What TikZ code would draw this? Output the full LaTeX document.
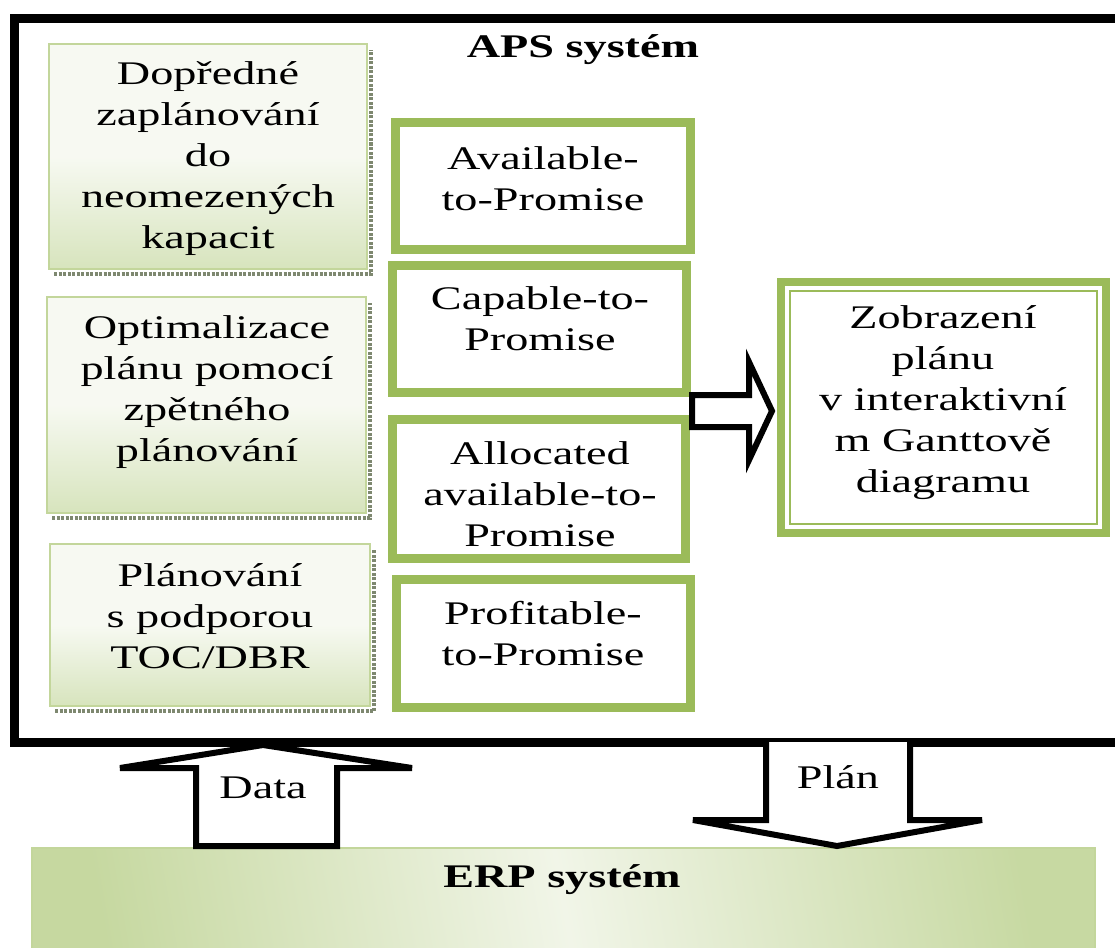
\documentclass[tikz,border=0pt]{standalone}
\usepackage{fontspec}
\setmainfont{Liberation Serif}[FakeStretch=1.4]
\usetikzlibrary{calc}
\definecolor{ogreen}{HTML}{9BBB59}
\definecolor{lgreen}{HTML}{D7E4BD}
\definecolor{bgreen}{HTML}{C3D69B}
\definecolor{pale}{HTML}{EBF1DE}
\definecolor{shadowc}{HTML}{7E8870}
\tikzset{
  leftbox/.style={draw=bgreen, line width=2pt, top color=pale!40!white, bottom color=lgreen, middle color=white!60!pale, inner sep=0pt},
  midbox/.style={draw=ogreen, line width=9pt, fill=white, inner sep=0pt},
  txt/.style={font=\fontsize{33}{41}\selectfont, align=center, inner sep=0pt, text=black},
  btxt/.style={font=\fontsize{33}{41}\selectfont\bfseries, align=center, inner sep=0pt, text=black},
  shadowline/.style={draw=shadowc, line width=3.5pt, dash pattern=on 3pt off 1.5pt},
  blockarrow/.style={draw=black, fill=white, line width=6pt, line join=miter}
}
\begin{document}
\begin{tikzpicture}[x=1pt,y=-1pt]
\useasboundingbox (0,0) rectangle (1115,947);
\fill[white] (0,0) rectangle (1115,947);

% APS frame (right side beyond the page)
\draw[line width=9pt] (14,19) rectangle (1150,742);
\node[btxt] (aps) at (583,50) {APS systém};

% left column boxes
\node[leftbox, minimum width=318pt, minimum height=225pt] (b1) at (208,156.5) {};
\node[leftbox, minimum width=319pt, minimum height=216pt] (b2) at (206.5,405) {};
\node[leftbox, minimum width=320pt, minimum height=162pt] (b3) at (210,625) {};
\foreach \b in {b1,b2,b3}{
  \draw[shadowline] ($(\b.south west)+(6,4)$) -- ($(\b.south east)+(3,4)$) -- ($(\b.north east)+(3,7)$);
}
\node[txt] (t1) at (208,159) {Dopředné\\zaplánování\\do\\neomezených\\kapacit};
\node[txt] (t2) at (207,392) {Optimalizace\\plánu pomocí\\zpětného\\plánování};
\node[txt] (t3) at (210,616) {Plánování\\s podporou\\TOC/DBR};

% middle column
\node[midbox, minimum width=295pt, minimum height=127pt] (m1) at (543,186) {};
\node[midbox, minimum width=294pt, minimum height=127pt] (m2) at (539.5,329) {};
\node[midbox, minimum width=293pt, minimum height=139pt] (m3) at (539,489) {};
\node[midbox, minimum width=294pt, minimum height=128pt] (m4) at (543.5,643.5) {};
\node[txt] (mt1) at (543,179) {Available-\\to-Promise};
\node[txt] (mt2) at (540,319) {Capable-to-\\Promise};
\node[txt] (mt3) at (540,494) {Allocated\\available-to-\\Promise};
\node[txt] (mt4) at (543,634) {Profitable-\\to-Promise};

% right box
\node[draw=ogreen, line width=8pt, fill=white, minimum width=325pt, minimum height=251pt, inner sep=0pt] (z) at (943.5,407.5) {};
\draw[ogreen, line width=2.5pt] ($(z.north west)+(13,13)$) rectangle ($(z.south east)+(-13,-13)$);
\node[txt] (zt) at (943,403) {Zobrazení\\plánu\\v interaktivní\\m Ganttově\\diagramu};

% arrow middle -> right
\draw[blockarrow] (692,395) -- (749,395) -- (749,362) -- (772,411) -- (749,460) -- (749,427) -- (692,427) -- cycle;

% ERP box
\node[draw=bgreen, line width=2pt, inner sep=0pt, minimum width=1063pt, minimum height=110pt,
      shading=axis, left color=bgreen!85!lgreen, right color=bgreen!80!lgreen, middle color=pale!70!white, shading angle=100] (erp) at (563.5,903) {};
\node[btxt] (erpt) at (562,880) {ERP systém};

% Data arrow (up)
\draw[blockarrow] (196,846) -- (196,768) -- (120,768) -- (263,745) -- (412,768) -- (337,768) -- (337,846) -- cycle;
\node[txt] (dt) at (263,788) {Data};

% Plan arrow (down)
\draw[blockarrow] (766,742) -- (766,820) -- (693,820) -- (837,846) -- (982,820) -- (910,820) -- (910,742);
\node[txt] (pt) at (838,777) {Plán};
\end{tikzpicture}
\end{document}
